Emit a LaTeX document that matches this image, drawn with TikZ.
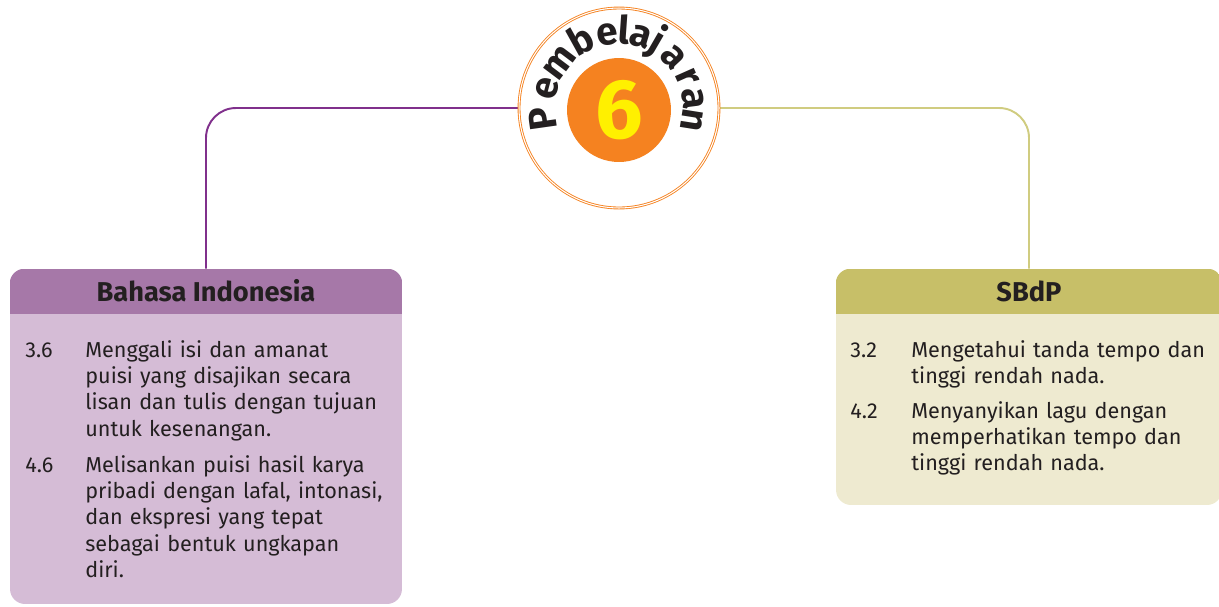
\documentclass[tikz,border=0pt]{standalone}
\usepackage{fontspec}
\setmainfont{Fira Sans}
\usetikzlibrary{positioning}
\definecolor{pborange}{RGB}{245,130,32}
\definecolor{pbyellow}{RGB}{255,240,0}
\definecolor{inklink}{RGB}{128,48,140}
\definecolor{indark}{RGB}{166,120,168}
\definecolor{inlight}{RGB}{213,188,214}
\definecolor{sblink}{RGB}{208,204,128}
\definecolor{sbdark}{RGB}{199,191,104}
\definecolor{sblight}{RGB}{238,234,208}
\definecolor{ink}{RGB}{35,31,32}

\begin{document}
\begin{tikzpicture}[x=0.02cm, y=0.02cm, text=ink,
  box/.style={rectangle, rounded corners=0.3cm, inner sep=0pt},
  head/.style={font=\fontsize{15.5}{18}\bfseries\selectfont},
  num/.style={anchor=base west, inner sep=0pt, font=\fontsize{12.3}{15}\selectfont},
  item/.style={anchor=base west, inner sep=0pt, text width=7cm, align=left,
    font=\fontsize{12.3}{15}\selectfont},
  arcletter/.style={anchor=base, inner sep=0pt, font=\fontsize{22}{22}\bfseries\selectfont}]
\useasboundingbox (0,0) rectangle (1219,-606);

\node[box, fill=inlight, minimum width=7.84cm, minimum height=6.7cm] (bi) at (206,-436.5) {};
\begin{scope}
  \clip[rounded corners=0.3cm] (bi.south west) rectangle (bi.north east);
  \fill[indark] (bi.north west) rectangle ([yshift=-0.9cm]bi.north east);
\end{scope}
\node[head] (bihead) at ([yshift=-0.45cm]bi.north) {Bahasa Indonesia};

\node[box, fill=sblight, minimum width=7.72cm, minimum height=4.72cm] (sb) at (1029,-387) {};
\begin{scope}
  \clip[rounded corners=0.3cm] (sb.south west) rectangle (sb.north east);
  \fill[sbdark] (sb.north west) rectangle ([yshift=-0.9cm]sb.north east);
\end{scope}
\node[head] (sbhead) at ([yshift=-0.45cm]sb.north) {SBdP};

\node[circle, minimum size=4cm, inner sep=0pt] (pb) at (619,-108) {};
\draw[inklink, line width=1.1pt, rounded corners=0.6cm] (pb.west) -| (bi.north);
\draw[sblink, line width=1.1pt, rounded corners=0.6cm] (pb.east) -| (sb.north);
\draw[pborange, fill=white, line width=0.5pt, double=white, double distance=0.6pt] (pb.center) circle (2cm);

\node[circle, fill=pborange, minimum size=2.08cm, inner sep=0pt, text=pbyellow,
  font=\fontsize{48}{48}\bfseries\selectfont] (six) at (619,-110) {6};
\foreach \ch/\ang in {P/188, e/165, m/143, b/119, e/99, l/86, a/73, j/60, a/43, r/24, a/7, n/-9}
  \node[arcletter, rotate=\ang-90] at ([shift={(\ang:1.28cm)}]pb.center) {\ch};

\node[num] (n36) at (25,-357) {3.6};
\node[item] (t36) at (85,-357) {Menggali isi dan amanat\\puisi yang disajikan secara\\lisan dan tulis dengan tujuan\\untuk kesenangan.};
\node[num] (n46) at (25,-472) {4.6};
\node[item] (t46) at (85,-472) {Melisankan puisi hasil karya\\pribadi dengan lafal, intonasi,\\dan ekspresi yang tepat\\sebagai bentuk ungkapan\\diri.};

\node[num] (n32) at (850,-357) {3.2};
\node[item] (t32) at (911,-357) {Mengetahui tanda tempo dan\\tinggi rendah nada.};
\node[num] (n42) at (850,-418) {4.2};
\node[item] (t42) at (911,-418) {Menyanyikan lagu dengan\\memperhatikan tempo dan\\tinggi rendah nada.};
\end{tikzpicture}
\end{document}
